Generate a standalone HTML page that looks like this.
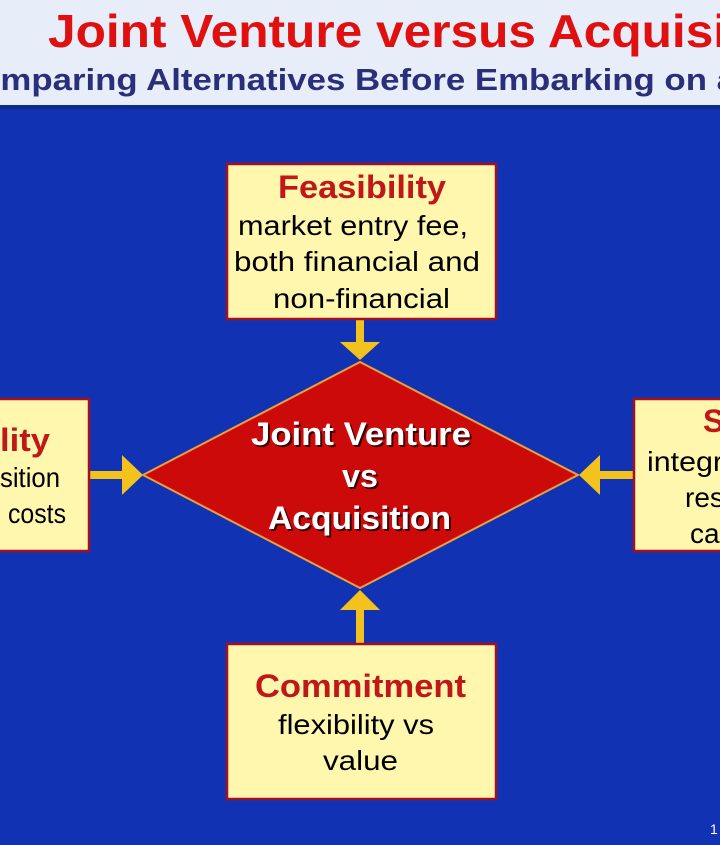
<!DOCTYPE html>
<html><head><meta charset="utf-8"><style>
html,body{margin:0;padding:0;width:720px;height:845px;overflow:hidden;background:#1232b4}
svg{display:block}
text{font-family:"Liberation Sans",Arial,sans-serif}
</style></head><body>
<svg width="720" height="845" viewBox="0 0 720 845">
<rect x="0" y="0" width="720" height="845" fill="#1232b4"/>
<rect x="0" y="0" width="720" height="107" fill="#e7eef9"/>
<rect x="0" y="105" width="720" height="4" fill="#0c2a8c"/>
<text x="48" y="47" font-size="46" font-weight="bold" fill="#e01010" textLength="770" lengthAdjust="spacingAndGlyphs">Joint Venture versus Acquisition</text>
<text x="-46" y="90" font-size="31" font-weight="bold" fill="#2a2f7a" textLength="782" lengthAdjust="spacingAndGlyphs">Comparing Alternatives Before Embarking on a</text>

<g fill="#f3c21c">
<rect x="356" y="320" width="8" height="24"/><polygon points="340,342 380,342 360,360"/>
<rect x="356" y="608" width="8" height="35"/><polygon points="340,610 380,610 360,590"/>
<rect x="90" y="471" width="34" height="8"/><polygon points="122,455 122,495 143,475"/>
<rect x="598" y="471" width="35" height="8"/><polygon points="600,455 600,495 579,475"/>
</g>

<polygon points="360,362 578,475 360,588 143,475" fill="#cc0a0a" stroke="#e8a040" stroke-width="2"/>
<g font-size="32" font-weight="bold" fill="#000" opacity="0.7">
<text x="253" y="447" textLength="220" lengthAdjust="spacingAndGlyphs">Joint Venture</text><text x="344" y="489" textLength="36" lengthAdjust="spacingAndGlyphs">vs</text><text x="270" y="531" textLength="183" lengthAdjust="spacingAndGlyphs">Acquisition</text></g>
<g font-size="32" font-weight="bold" fill="#fff">
<text x="251" y="445" textLength="220" lengthAdjust="spacingAndGlyphs">Joint Venture</text><text x="342" y="487" textLength="36" lengthAdjust="spacingAndGlyphs">vs</text><text x="268" y="529" textLength="183" lengthAdjust="spacingAndGlyphs">Acquisition</text></g>

<g fill="#fff7ae" stroke="#a01020" stroke-width="2.5">
<rect x="227" y="164" width="269" height="155"/>
<rect x="227" y="644" width="269" height="155"/>
<rect x="-10" y="399" width="99" height="152"/>
<rect x="634" y="399" width="100" height="152"/>
</g>
<g font-size="28">
<text x="278" y="198" font-weight="bold" fill="#c01818" font-size="32" textLength="168" lengthAdjust="spacingAndGlyphs">Feasibility</text>
<text x="238" y="235" textLength="230" lengthAdjust="spacingAndGlyphs">market entry fee,</text>
<text x="234" y="271" textLength="246" lengthAdjust="spacingAndGlyphs">both financial and</text>
<text x="273" y="308" textLength="177" lengthAdjust="spacingAndGlyphs">non-financial</text>
<text x="255" y="697" font-weight="bold" fill="#c01818" font-size="32" textLength="211" lengthAdjust="spacingAndGlyphs">Commitment</text>
<text x="278" y="734" textLength="156" lengthAdjust="spacingAndGlyphs">flexibility vs</text>
<text x="323" y="770" textLength="75" lengthAdjust="spacingAndGlyphs">value</text>
</g>
<text x="0" y="451" font-size="32" font-weight="bold" fill="#c01818" textLength="50" lengthAdjust="spacingAndGlyphs">lity</text>
<g font-size="28">
<text x="0" y="487" textLength="60" lengthAdjust="spacingAndGlyphs">sition</text>
<text x="8" y="523" textLength="58" lengthAdjust="spacingAndGlyphs">costs</text>
</g>
<text x="703" y="432" font-size="32" font-weight="bold" fill="#c01818">S</text>
<g font-size="28">
<text x="647" y="471" textLength="76" lengthAdjust="spacingAndGlyphs">integr</text>
<text x="685" y="507">res</text>
<text x="690" y="543">ca</text>
</g>
<text x="710" y="834" font-size="14" fill="#fff">1</text>
</svg>
</body></html>
